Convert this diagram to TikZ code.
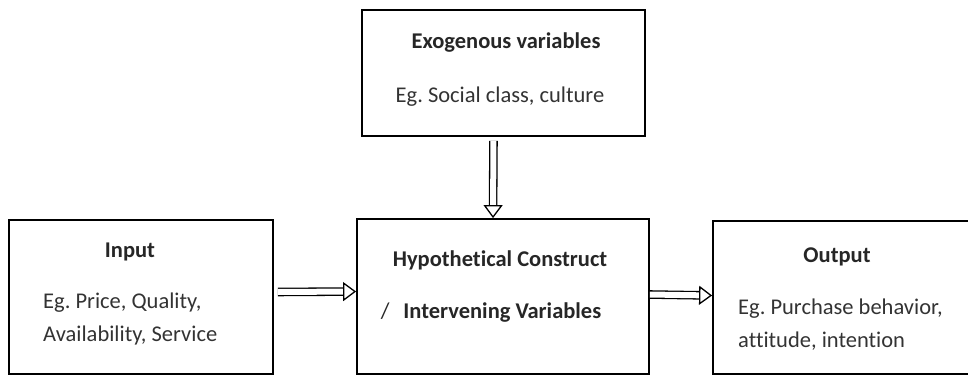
\documentclass[tikz,border=0pt]{standalone}
\usepackage{fontspec}
\setmainfont{Carlito}[Ligatures=CommonOff]
\usetikzlibrary{arrows.meta}
\frenchspacing

\tikzset{
  block/.style={draw=black, line width=1.8pt, rectangle, inner sep=0pt},
  headtxt/.style={font=\fontsize{22.5}{27}\selectfont\bfseries, inner sep=0pt, text=black!85},
  bodytxt/.style={font=\fontsize{22.5}{33}\selectfont, inner sep=0pt, align=left, text=black!80},
  flowarrow/.style={
    double=white, double distance=6pt, line width=1.3pt,
    -{Triangle[open, length=13pt, width=19pt]}
  }
}

\begin{document}
\begin{tikzpicture}[x=1pt, y=-1pt]
    \useasboundingbox (0,0) rectangle (968,376);

    % the four boxes
    \node[block, minimum width=283pt, minimum height=126pt] (exo) at (503.5,73) {};
    \node[block, minimum width=292pt, minimum height=155pt] (hyp) at (503,296.5) {};
    \node[block, minimum width=264pt, minimum height=154pt] (input) at (141,297) {};
    \node[block, minimum width=262pt, minimum height=153pt] (output) at (844,297.5) {};

    % texts
    \node[headtxt] (exohead) at (506,43) {Exogenous variables};
    \node[bodytxt] (exobody) at (500,97) {Eg. Social class, culture};

    \node[headtxt] (hyphead) at (500,260) {Hypothetical Construct};
    \node[headtxt] (hypbody) at (491,313) {\mdseries /\hspace{14pt}\bfseries Intervening Variables};

    \node[headtxt] (inhead) at (130,252) {Input};
    \node[bodytxt, anchor=west] (inbody) at (43,319) {Eg. Price, Quality,\\Availability, Service};

    \node[headtxt] (outhead) at (837,257) {Output};
    \node[bodytxt, anchor=west] (outbody) at (738,325) {Eg. Purchase behavior,\\attitude, intention};

    % arrows
    \draw[flowarrow, shorten <=4pt] ([xshift=-10pt]exo.south) -- ([xshift=-10pt]hyp.north);
    \draw[flowarrow, shorten <=4pt] ([yshift=5pt]input.east) -- ([yshift=5pt]hyp.west);
    \draw[flowarrow] ([yshift=2pt]hyp.east) -- ([yshift=2pt]output.west);

\end{tikzpicture}
\end{document}
